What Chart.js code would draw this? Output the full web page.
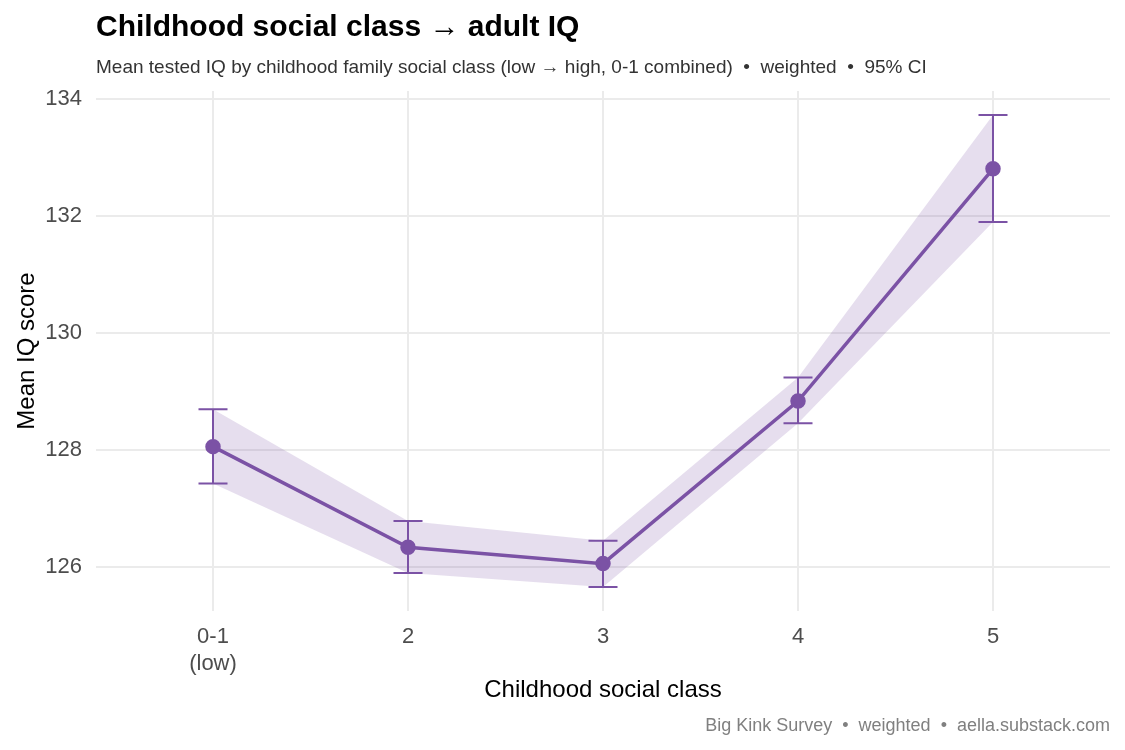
<!DOCTYPE html>
<html>
<head>
<meta charset="utf-8">
<script src="https://cdn.jsdelivr.net/npm/chart.js@4"></script>
<style>
  html, body { margin: 0; padding: 0; background: #fff; }
</style>
</head>
<body>
<canvas id="iq" width="1125" height="750"></canvas>
<script>
// data
var classLabels = [['0-1', '(low)'], '2', '3', '4', '5'];
var classPos = [1, 2, 3, 4, 5];
var meanIQ = [128.05, 126.33, 126.05, 128.83, 132.80];
var ciLow = [127.42, 125.89, 125.65, 128.45, 131.89];
var ciHigh = [128.69, 126.78, 126.44, 129.23, 133.72];
var yTicks = [126, 128, 130, 132, 134];

var purple = 'rgb(123, 82, 165)';
var band = 'rgba(123, 82, 165, 0.19)';
var fontFam = '"Liberation Sans", Arial, "DejaVu Sans", sans-serif';

function pts(vals) {
    return vals.map(function (v, i) { return { x: classPos[i], y: v }; });
}

// error bars drawn from the scales
var errorBars = {
    id: 'errorBars',
    afterDatasetsDraw: function (chart) {
        var ctx = chart.ctx;
        var xs = chart.scales.x, ys = chart.scales.y;
        ctx.save();
        ctx.strokeStyle = purple;
        ctx.lineWidth = 2;
        for (var i = 0; i < classPos.length; i++) {
            var x = xs.getPixelForValue(classPos[i]);
            var y1 = ys.getPixelForValue(ciLow[i]);
            var y2 = ys.getPixelForValue(ciHigh[i]);
            ctx.beginPath();
            ctx.moveTo(x, y1); ctx.lineTo(x, y2);
            ctx.moveTo(x - 14.5, y1); ctx.lineTo(x + 14.5, y1);
            ctx.moveTo(x - 14.5, y2); ctx.lineTo(x + 14.5, y2);
            ctx.stroke();
        }
        ctx.restore();
    }
};

var caption = {
    id: 'caption',
    afterDraw: function (chart) {
        var ctx = chart.ctx;
        ctx.save();
        ctx.font = '18px ' + fontFam;
        ctx.fillStyle = '#808080';
        ctx.textAlign = 'right';
        ctx.textBaseline = 'middle';
        ctx.fillText('Big Kink Survey  \u2022  weighted  \u2022  aella.substack.com', chart.chartArea.right, 726);
        ctx.restore();
    }
};

var iqChart = new Chart(document.getElementById('iq'), {
    type: 'line',
    data: {
        datasets: [
            {
                label: 'ciHigh',
                data: pts(ciHigh),
                borderWidth: 0,
                pointRadius: 0,
                fill: false,
                order: 3
            },
            {
                label: 'ciLow',
                data: pts(ciLow),
                borderWidth: 0,
                pointRadius: 0,
                backgroundColor: band,
                fill: '-1',
                order: 2
            },
            {
                label: 'Mean IQ',
                data: pts(meanIQ),
                borderColor: purple,
                backgroundColor: purple,
                borderWidth: 3.5,
                pointRadius: 6,
                pointHoverRadius: 6,
                fill: false,
                order: 1
            }
        ]
    },
    options: {
        responsive: false,
        animation: false,
        layout: { padding: { left: 0, right: 15, top: 0, bottom: 40 } },
        plugins: {
            legend: { display: false },
            tooltip: { enabled: false },
            title: {
                display: true,
                text: 'Childhood social class \u2192 adult IQ',
                align: 'start',
                fullSize: false,
                color: '#000',
                font: { family: fontFam, size: 30, weight: 'bold', lineHeight: 1.2 },
                padding: { top: 10, bottom: 10.6 }
            },
            subtitle: {
                display: true,
                text: 'Mean tested IQ by childhood family social class (low \u2192 high, 0-1 combined)  \u2022  weighted  \u2022  95% CI',
                align: 'start',
                fullSize: false,
                color: '#333',
                font: { family: fontFam, size: 19, lineHeight: 1.2 },
                padding: { top: 0, bottom: 11.6 }
            }
        },
        scales: {
            x: {
                type: 'linear',
                min: 0.4,
                max: 5.6,
                border: { display: false },
                grid: { color: '#ebebeb', lineWidth: 2, drawTicks: false },
                afterBuildTicks: function (s) {
                    s.ticks = classPos.map(function (v) { return { value: v }; });
                },
                afterFit: function (s) { s.height = 99; },
                ticks: {
                    color: '#4d4d4d',
                    padding: 13,
                    font: { family: fontFam, size: 22, lineHeight: 1.2 },
                    maxRotation: 0,
                    callback: function (v) { return classLabels[classPos.indexOf(v)]; }
                },
                title: {
                    display: true,
                    text: 'Childhood social class',
                    color: '#000',
                    font: { family: fontFam, size: 24, lineHeight: 1.2 },
                    padding: { top: 0, bottom: 5.6 }
                }
            },
            y: {
                min: 125.24,
                max: 134.13,
                border: { display: false },
                grid: { color: '#ebebeb', lineWidth: 2, drawTicks: false },
                afterBuildTicks: function (s) {
                    s.ticks = yTicks.map(function (v) { return { value: v }; });
                },
                afterFit: function (s) { s.width = 96; },
                ticks: {
                    color: '#4d4d4d',
                    padding: 14,
                    font: { family: fontFam, size: 22 }
                },
                title: {
                    display: true,
                    text: 'Mean IQ score',
                    color: '#000',
                    font: { family: fontFam, size: 24, lineHeight: 1.2 },
                    padding: { top: 12.6, bottom: 0 }
                }
            }
        }
    },
    plugins: [errorBars, caption]
});
</script>
</body>
</html>
